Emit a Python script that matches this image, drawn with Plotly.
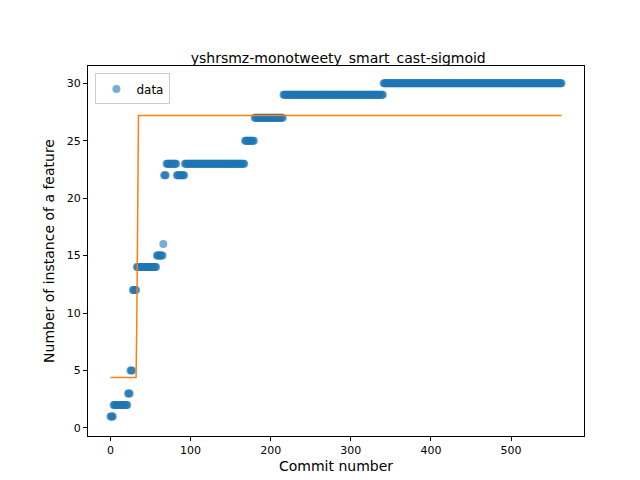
import plotly.graph_objects as go

# data runs: (first commit, last commit, value)
run_start = [0, 4, 22, 25, 28, 33, 58, 66, 67, 70, 83, 93, 168, 180, 216, 341]
run_end   = [3, 21, 24, 27, 32, 57, 65, 66, 69, 82, 92, 167, 179, 215, 340, 563]
run_value = [1, 2, 3, 5, 12, 14, 15, 16, 22, 23, 22, 23, 25, 27, 29, 30]

fit_x = [0, 32, 33, 34, 35, 563]
fit_y = [4.4, 4.4, 10, 22, 27.2, 27.2]

xs, ys = [], []
for s, e, v in zip(run_start, run_end, run_value):
    for i in range(s, e + 1):
        xs.append(i); ys.append(v)

fig = go.Figure()
fig.add_trace(go.Scatter(x=xs, y=ys, mode="markers", name="data",
                         marker=dict(color="#1f77b4", opacity=0.6, size=8, line=dict(width=0))))
fig.add_trace(go.Scatter(x=fit_x, y=fit_y, mode="lines", showlegend=False,
                         line=dict(color="#ff7f0e", width=1.5)))
ax = dict(showgrid=False, zeroline=False, showline=True, mirror=True, linecolor="black",
          ticks="outside", tickcolor="black", ticklen=4, automargin=False,
          tickfont=dict(size=11, color="black"))
fig.update_layout(
    width=640, height=480, plot_bgcolor="white", paper_bgcolor="white",
    margin=dict(l=80, r=64, t=58, b=52, autoexpand=False),
    font=dict(family="DejaVu Sans", color="black"),
    title=dict(text="yshrsmz-monotweety_smart_cast-sigmoid", x=0.516, xanchor="center",
               y=0.885, yanchor="bottom", font=dict(size=14)),
    xaxis=dict(ax, range=[-28, 591], tickvals=[0, 100, 200, 300, 400, 500],
               title=dict(text="Commit number", font=dict(size=14), standoff=4)),
    yaxis=dict(ax, range=[-0.7, 31.5], tickvals=[0, 5, 10, 15, 20, 25, 30],
               title=dict(text="Number of instance of a feature", font=dict(size=14), standoff=8)),
    legend=dict(x=0.015, y=0.98, xanchor="left", yanchor="top", bordercolor="#cccccc",
                borderwidth=1, font=dict(size=12), itemwidth=30, tracegroupgap=0),
)
fig.write_html("out.html")
